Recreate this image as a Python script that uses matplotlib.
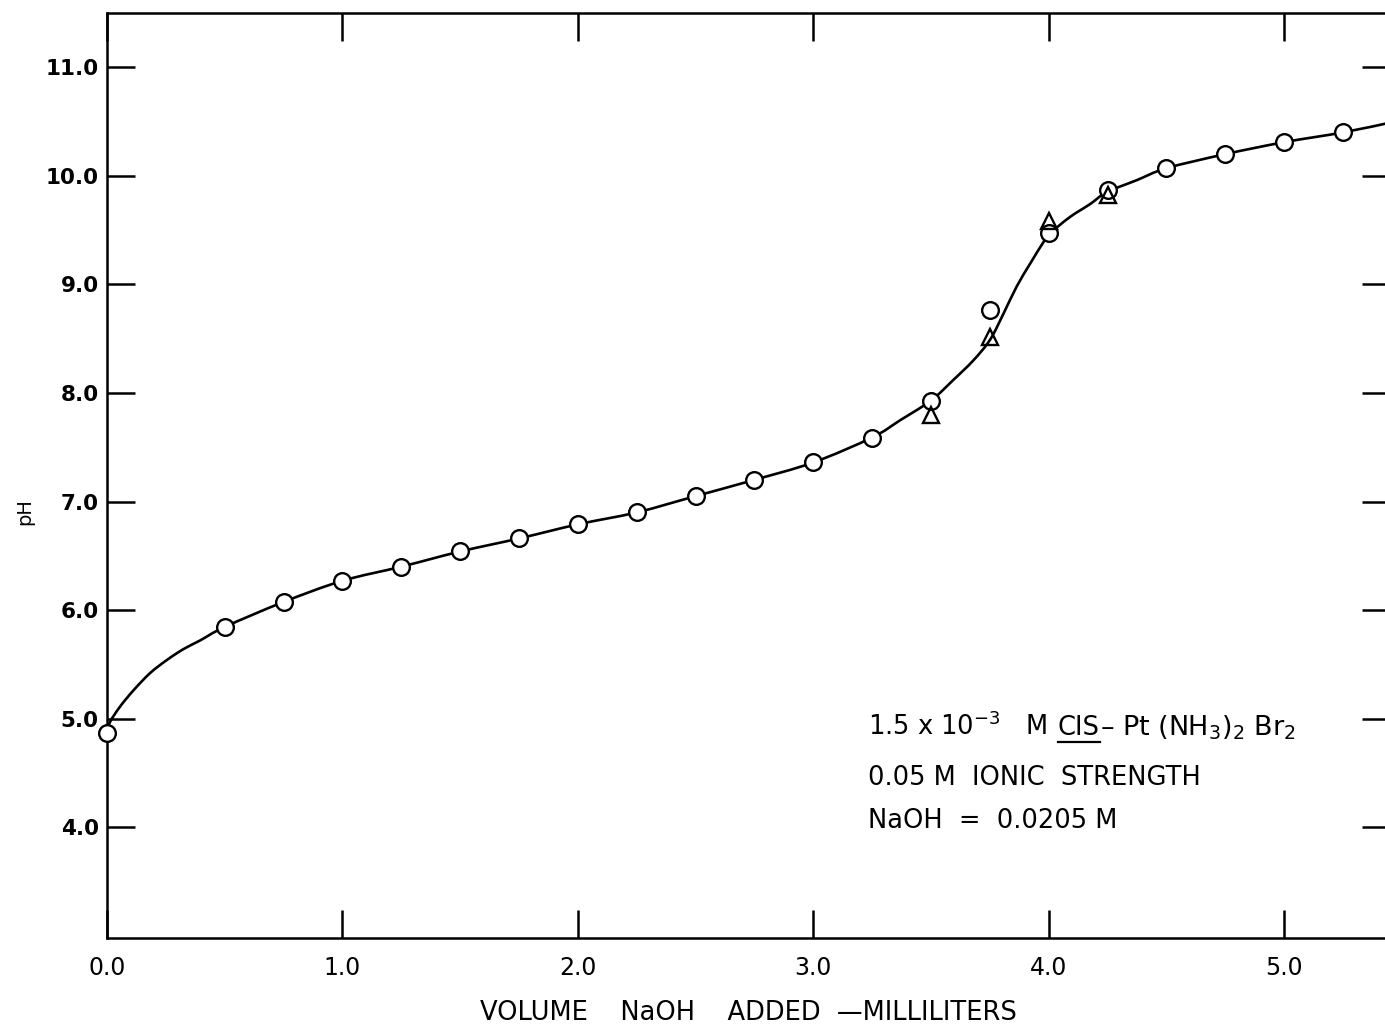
import matplotlib
matplotlib.use("Agg")
import matplotlib.pyplot as plt
from matplotlib.lines import Line2D
from matplotlib.path import Path
from matplotlib.patches import PathPatch

# ---- data ----
vol_circles = [0.0, 0.5, 0.75, 1.0, 1.25, 1.5, 1.75, 2.0, 2.25, 2.5, 2.75,
               3.0, 3.25, 3.5, 3.75, 4.0, 4.25, 4.5, 4.75, 5.0, 5.25]
ph_circles = [4.87, 5.845, 6.075, 6.27, 6.40, 6.54, 6.66, 6.79, 6.90, 7.05, 7.20,
              7.36, 7.59, 7.93, 8.76, 9.47, 9.87, 10.07, 10.20, 10.31, 10.40]

vol_triangles = [3.5, 3.75, 4.0, 4.25]
ph_triangles = [7.80, 8.52, 9.58, 9.82]

# smooth titration curve
vol_curve = [0.0, 0.013, 0.055, 0.112, 0.183, 0.254, 0.324, 0.395, 0.5, 0.75,
             1.0, 1.25, 1.5, 1.75, 2.0, 2.25, 2.5, 2.75, 3.0, 3.25, 3.37, 3.5,
             3.595, 3.68, 3.751, 3.808, 3.864, 3.921, 3.978, 4.006, 4.09, 4.176,
             4.247, 4.374, 4.5, 4.75, 5.0, 5.25, 5.45]
ph_curve = [4.87, 4.97, 5.11, 5.26, 5.42, 5.54, 5.64, 5.72, 5.845, 6.075,
            6.27, 6.40, 6.54, 6.66, 6.79, 6.90, 7.05, 7.20, 7.36, 7.59, 7.75, 7.93,
            8.12, 8.30, 8.49, 8.73, 8.98, 9.19, 9.39, 9.47, 9.62, 9.74,
            9.85, 9.96, 10.07, 10.20, 10.31, 10.40, 10.49]

x_ticks = [0.0, 1.0, 2.0, 3.0, 4.0, 5.0]
x_ticklabels = ["0.0", "1.0", "2.0", "3.0", "4.0", "5.0"]
y_ticks = [4.0, 5.0, 6.0, 7.0, 8.0, 9.0, 10.0, 11.0]
y_ticklabels = ["4.0", "5.0", "6.0", "7.0", "8.0", "9.0", "10.0", "11.0"]

plt.rcParams['font.family'] = ['DejaVu Sans']

W, H = 1385, 1026
fig = plt.figure(figsize=(W / 100, H / 100), dpi=100)
left = 107 / W
right = 1390 / W
bottom = (H - 938) / H
top = (H - 13) / H
ax = fig.add_axes([left, bottom, right - left, top - bottom])

ax.set_xlim(0, 5.45)
ax.set_ylim(2.98, 11.5)

# smooth rendering of the traced curve (Catmull-Rom -> cubic Bezier path)
pts = list(zip(vol_curve, ph_curve))
verts = [pts[0]]
codes = [Path.MOVETO]
n = len(pts)
for i in range(n - 1):
    p0 = pts[i - 1] if i > 0 else pts[i]
    p1 = pts[i]
    p2 = pts[i + 1]
    p3 = pts[i + 2] if i + 2 < n else pts[i + 1]
    c1 = (p1[0] + (p2[0] - p0[0]) / 6.0, p1[1] + (p2[1] - p0[1]) / 6.0)
    c2 = (p2[0] - (p3[0] - p1[0]) / 6.0, p2[1] - (p3[1] - p1[1]) / 6.0)
    verts += [c1, c2, p2]
    codes += [Path.CURVE4, Path.CURVE4, Path.CURVE4]
ax.add_patch(PathPatch(Path(verts, codes), facecolor='none', edgecolor='black',
                       lw=1.9, zorder=2))

ax.plot(vol_circles, ph_circles, linestyle='none', marker='o', markersize=12,
        markerfacecolor='white', markeredgecolor='black', markeredgewidth=1.7,
        zorder=3, clip_on=False)
ax.plot(vol_triangles, ph_triangles, linestyle='none', marker='^', markersize=11,
        markerfacecolor='none', markeredgecolor='black', markeredgewidth=1.7, zorder=4)

for s in ax.spines.values():
    s.set_linewidth(1.8)

ax.set_xticks(x_ticks)
ax.set_xticklabels(x_ticklabels, fontsize=17)
ax.set_yticks(y_ticks)
ax.set_yticklabels(y_ticklabels, fontsize=15.5, fontweight='bold')
ax.tick_params(axis='both', direction='in', length=20, width=1.8,
               top=True, right=True)
ax.tick_params(axis='x', pad=13)
ax.tick_params(axis='y', pad=6)

ax.set_xlabel("VOLUME    NaOH    ADDED  —MILLILITERS", fontsize=18.5, labelpad=14)
fig.text(25 / W, 1 - 512 / H, "pH", rotation=90, fontsize=14,
         ha='center', va='center')

# annotation block
fs = 18.5
x0 = 868 / W
renderer = fig.canvas.get_renderer()
t1 = fig.text(x0, 1 - 735 / H, r"1.5 x 10$^{-3}$   M  ", fontsize=fs, ha='left', va='baseline')
bb1 = t1.get_window_extent(renderer)
t2 = fig.text(bb1.x1 / W, 1 - 735 / H, "CIS", fontsize=fs, ha='left', va='baseline')
bb2 = t2.get_window_extent(renderer)
fig.add_artist(Line2D([bb2.x0 / W, bb2.x1 / W], [(H - 742) / H, (H - 742) / H],
                      color='black', lw=1.6))
fig.text(bb2.x1 / W, 1 - 735 / H, r"– Pt (NH$_3$)$_2$ Br$_2$", fontsize=fs + 1,
         ha='left', va='baseline')
fig.text(x0, 1 - 785 / H, "0.05 M  IONIC  STRENGTH", fontsize=fs, ha='left', va='baseline')
fig.text(x0, 1 - 828 / H, "NaOH  =  0.0205 M", fontsize=fs, ha='left', va='baseline')

fig.savefig("out.png", dpi=100)
